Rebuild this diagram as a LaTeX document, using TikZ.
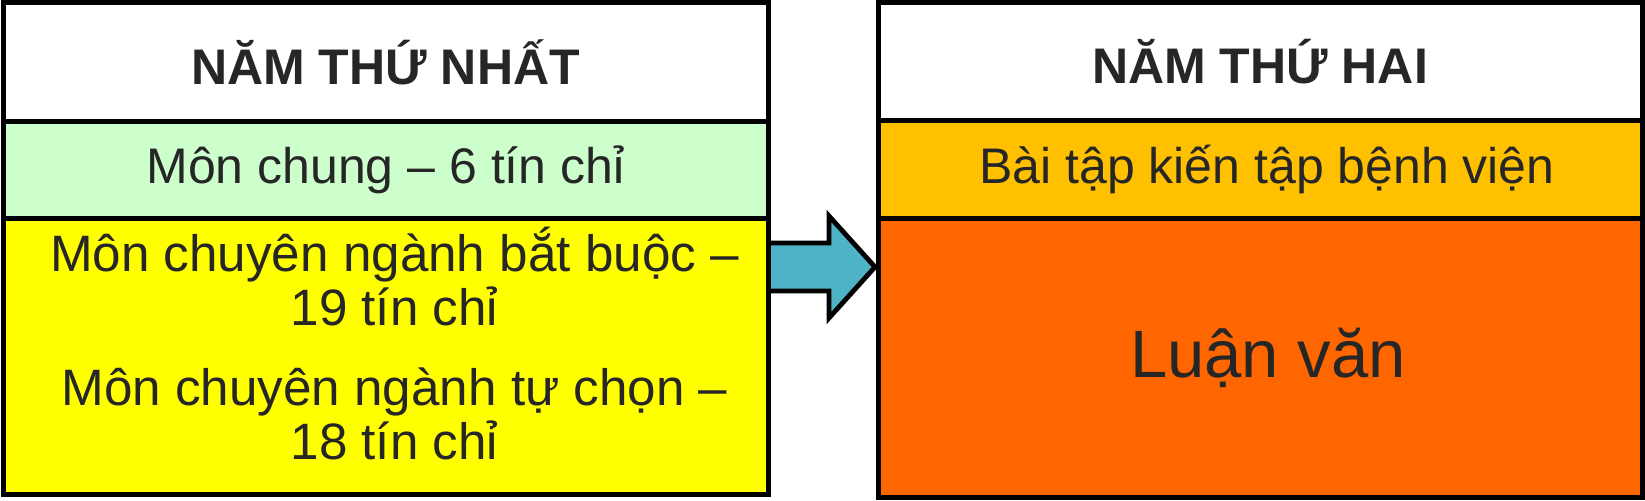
\documentclass[tikz,border=0pt]{standalone}
\usepackage{fontspec}
\setmainfont{Liberation Sans}
\usepackage{xcolor}
\usepackage{tikz}
\usetikzlibrary{positioning, calc, backgrounds}
\definecolor{inkdark}{RGB}{38, 38, 38}
\definecolor{mintbg}{RGB}{204, 255, 204}
\definecolor{lemonbg}{RGB}{255, 255, 0}
\definecolor{amberbg}{RGB}{255, 192, 0}
\definecolor{orangebg}{RGB}{255, 102, 0}
\definecolor{aquaarrow}{RGB}{79, 179, 200}
\tikzset{
  x=0.5pt, y=-0.5pt,
  cellblock/.style={
    rectangle, draw=black, line width=2.5pt, inner sep=0pt, outer sep=0pt,
    align=center, text=inkdark, font=\fontsize{25}{27}\selectfont
  },
  leftcell/.style={cellblock, minimum width=382.5pt},
  rightcell/.style={cellblock, minimum width=382pt},
  headblock/.style={fill=white, font=\bfseries\fontsize{25}{27}\selectfont},
  celltext/.style={align=center, text=inkdark, inner sep=0pt, font=\fontsize{25.6}{27}\selectfont},
  flowarrow/.style={draw=black, fill=aquaarrow, line width=2.4pt, line join=miter}
}

\begin{document}
\begin{tikzpicture}
  \useasboundingbox (0,0) rectangle (1645,501);

  % Year 1
  \node[leftcell, headblock, minimum height=59.25pt, anchor=north west] (yearone) at (3,3) {NĂM THỨ NHẤT};
  \node[leftcell, fill=mintbg, minimum height=48.5pt, below=0pt of yearone] (common) {Môn chung – 6 tín chỉ};
  \node[leftcell, fill=lemonbg, minimum height=138pt, below=0pt of common] (core) {};
  \node[celltext] (coretext) at ([xshift=4.5pt, yshift=6.5pt]core.center) {
    Môn chuyên ngành bắt buộc –\\
    19 tín chỉ\\[13pt]
    Môn chuyên ngành tự chọn –\\
    18 tín chỉ
  };

  % Year 2
  \node[rightcell, headblock, minimum height=58.75pt, right=55pt of yearone.north east, anchor=north west] (yeartwo) {NĂM THỨ HAI};
  \node[rightcell, fill=amberbg, minimum height=49pt, below=0pt of yeartwo] (practice) {\hspace*{7pt}Bài tập kiến tập bệnh viện};
  \node[rightcell, fill=orangebg, minimum height=139.75pt, below=0pt of practice, font=\fontsize{33.5}{37}\selectfont] (thesis) {\hspace*{8pt}Luận văn};

  % Arrow between the years
  \coordinate (tail) at ($(core.north east)+(0,48.5)$);
  \coordinate (tip) at ($(tail -| thesis.west)+(-3,0)$);
  \coordinate (neck) at ($(tip)+(-46,0)$);
  \begin{scope}[on background layer]
    \draw[flowarrow] ($(tail)+(0,-24)$) -- ($(neck)+(0,-24)$) -- ($(neck)+(0,-51)$) -- (tip)
      -- ($(neck)+(0,51)$) -- ($(neck)+(0,24)$) -- ($(tail)+(0,24)$);
  \end{scope}

\end{tikzpicture}
\end{document}
